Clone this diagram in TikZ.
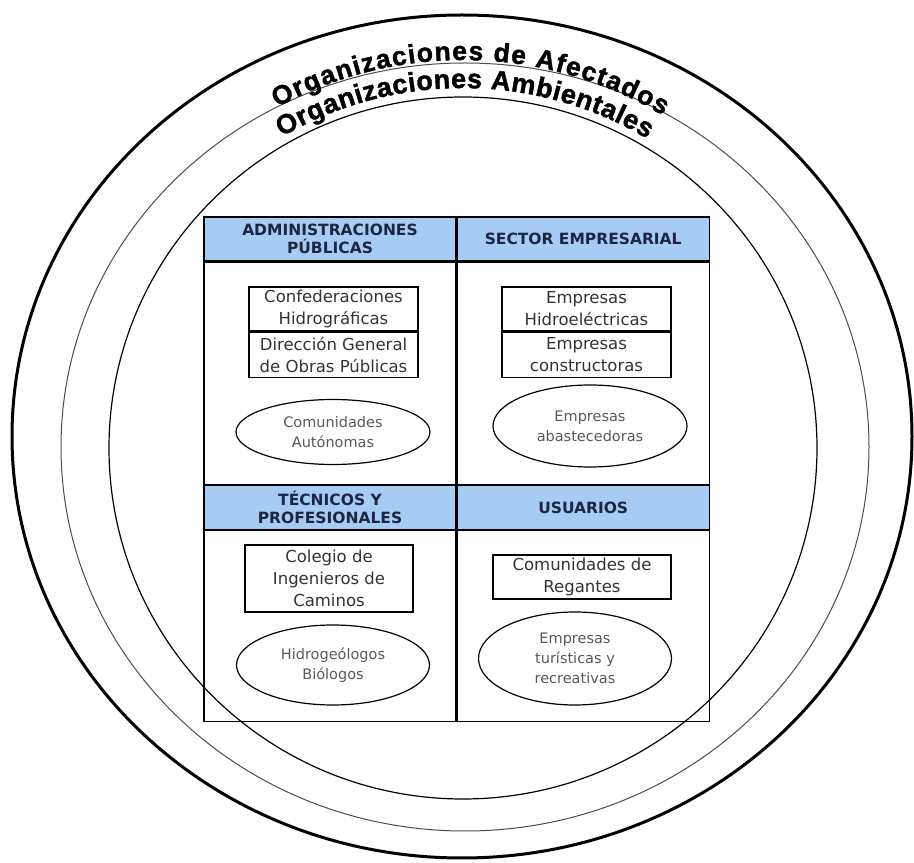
\documentclass[tikz,border=0pt]{standalone}
\usepackage{fontspec}
\setmainfont{DejaVu Sans}
\newfontfamily\arcfont[BoldFeatures={FakeBold=1.5}]{Liberation Sans}
\usetikzlibrary{positioning, shapes.geometric, decorations.text}
\definecolor{hdrblue}{RGB}{166,204,244}
\definecolor{hdrtext}{RGB}{28,38,66}

\begin{document}
\begin{tikzpicture}[x=1pt, y=1pt, line width=1.2pt,
    hdr/.style={draw, fill=hdrblue, minimum width=252pt, minimum height=44pt, inner sep=0pt,
        align=center, text=hdrtext, font=\bfseries\fontsize{15.5}{18}\selectfont},
    cell/.style={draw, minimum width=252pt, inner sep=0pt},
    entbox/.style={draw, minimum width=169pt, minimum height=44pt, inner sep=0pt,
        align=center, text=black!80, font=\fontsize{16.5}{22}\selectfont},
    entell/.style={draw, ellipse, minimum width=194pt, inner sep=0pt,
        align=center, text=black!65, font=\fontsize{14.5}{20}\selectfont},
    arctext/.style 2 args={decorate, decoration={text along path, text align=fit to path,
        text={|\arcfont\bfseries\fontsize{#1}{#1}\selectfont|#2}}}]

        \useasboundingbox (0,0) rectangle (914,863);

        %RINGS
        \draw[line width=3pt] (462,426.5) ellipse[x radius=450, y radius=421.5];
        \draw[line width=1pt, black!70] (465,416) ellipse[x radius=404, y radius=384];
        \path[arctext={26.5}{Organizaciones de Afectados}]
            (463,415) ++(118.6:388) arc[start angle=118.6, end angle=59, radius=388];
        \path[arctext={27}{Organizaciones Ambientales}]
            (463,415) ++(120.2:360) arc[start angle=120.2, end angle=59.2, radius=360];

        %TABLE (HEADERS AND CELLS)
        \node[hdr] (adm) at (330,624) {ADMINISTRACIONES\\PÚBLICAS};
        \node[hdr, right=0pt of adm] (emp) {SECTOR EMPRESARIAL};
        \node[cell, minimum height=222pt, below=0pt of adm] (admcell) {};
        \node[cell, minimum height=222pt, below=0pt of emp] (empcell) {};
        \node[hdr, below=0pt of admcell] (tec) {TÉCNICOS Y\\PROFESIONALES};
        \node[hdr, below=0pt of empcell] (usu) {USUARIOS};
        \node[cell, minimum height=191pt, below=0pt of tec] (teccell) {};
        \node[cell, minimum height=191pt, below=0pt of usu] (usucell) {};

        % inner ring goes over the table corners
        \draw[line width=1.2pt] (463,415) ellipse[x radius=354, y radius=351];

        %ADMINISTRACIONES
        \node[entbox] (conf) at (333.5,554) {Confederaciones\\Hidrográficas};
        \node[entbox, minimum height=45pt, below=0pt of conf] (dgop) {Dirección General\\de Obras Públicas};
        \node[entell, minimum height=65pt] (ccaa) at (333,431) {Comunidades\\Autónomas};

        %EMPRESAS
        \node[entbox] (hidro) at (586.5,554) {Empresas\\Hidroeléctricas};
        \node[entbox, minimum height=45pt, below=0pt of hidro] (constr) {Empresas\\constructoras};
        \node[entell, minimum height=82pt] (abast) at (590,437) {Empresas\\abastecedoras};

        %TECNICOS
        \node[entbox, minimum width=168pt, minimum height=67pt] (colegio) at (329,284.5) {Colegio de\\Ingenieros de\\Caminos};
        \node[entell, minimum width=193pt, minimum height=80pt] (geo) at (333,198) {Hidrogeólogos\\Biólogos};

        %USUARIOS
        \node[entbox, minimum width=178pt] (regantes) at (582,286) {Comunidades de\\Regantes};
        \node[entell, minimum width=193pt, minimum height=93pt] (turis) at (575,204.5) {Empresas\\turísticas y\\recreativas};

    \end{tikzpicture}
\end{document}
